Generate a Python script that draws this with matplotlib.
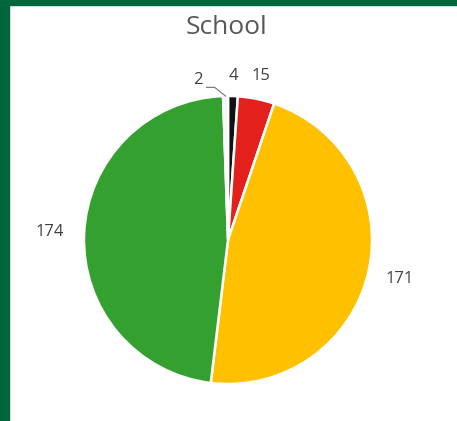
import numpy as np
import matplotlib
matplotlib.use("Agg")
import matplotlib.pyplot as plt
from matplotlib.patches import Rectangle

# School totals by category, in drawing order (clockwise from 12 o'clock)
labels = ["4", "15", "171", "174", "2"]
values = [4, 15, 171, 174, 2]
colors = ["#111111", "#e3201b", "#ffc000", "#33a02f", "#eef3f8"]
title = "School"

# radial distance of each value label from the centre (in pie radii)
label_dist = [1.14, 1.16, 1.22, 1.24, None]

W, H = 457, 421
fig = plt.figure(figsize=(W / 100, H / 100), dpi=100)
fig.patch.set_facecolor("white")

frame_green = "#00663c"
fig.patches.append(Rectangle((0, 1 - 5 / H), 1, 5 / H, transform=fig.transFigure,
                             color=frame_green, zorder=0))
fig.patches.append(Rectangle((0, 0), 9 / W, 1, transform=fig.transFigure,
                             color=frame_green, zorder=0))

cx, cy, R = 228, 240, 144
ax = fig.add_axes([(cx - R) / W, (H - cy - R) / H, 2 * R / W, 2 * R / H])

wedges, _ = ax.pie(values, colors=colors, startangle=90, counterclock=False,
                   wedgeprops=dict(edgecolor="white", linewidth=1.8))
for w in wedges:
    w.set_clip_on(False)
ax.set_xlim(-1, 1)
ax.set_ylim(-1, 1)
ax.axis("off")

font = "Open Sans"
txt_color = "#404040"

for w, lab, d in zip(wedges, labels, label_dist):
    mid = np.deg2rad((w.theta1 + w.theta2) / 2)
    if d is not None:
        ax.text(d * np.cos(mid), d * np.sin(mid), lab, ha="center", va="center",
                fontsize=12, color=txt_color, family=font, clip_on=False)
    else:
        # small slice: label pulled to the left with a leader line
        rim = (np.cos(mid), np.sin(mid))
        elbow_ang = np.deg2rad(95.0)
        elbow = (1.064 * np.cos(elbow_ang), 1.064 * np.sin(elbow_ang))
        end = (elbow[0] - 0.056, elbow[1])
        ax.plot([rim[0], elbow[0], end[0]], [rim[1], elbow[1], end[1]],
                color="#7f7f7f", lw=0.9, clip_on=False)
        ax.text(end[0] - 0.025, end[1] + 0.05, lab, ha="right", va="center",
                fontsize=12, color=txt_color, family=font, clip_on=False)

fig.text(226.5 / W, 1 - 27 / H, title, ha="center", va="center",
         fontsize=19, color="#595959", family=font)

fig.savefig("out.png", dpi=100, facecolor="white")
